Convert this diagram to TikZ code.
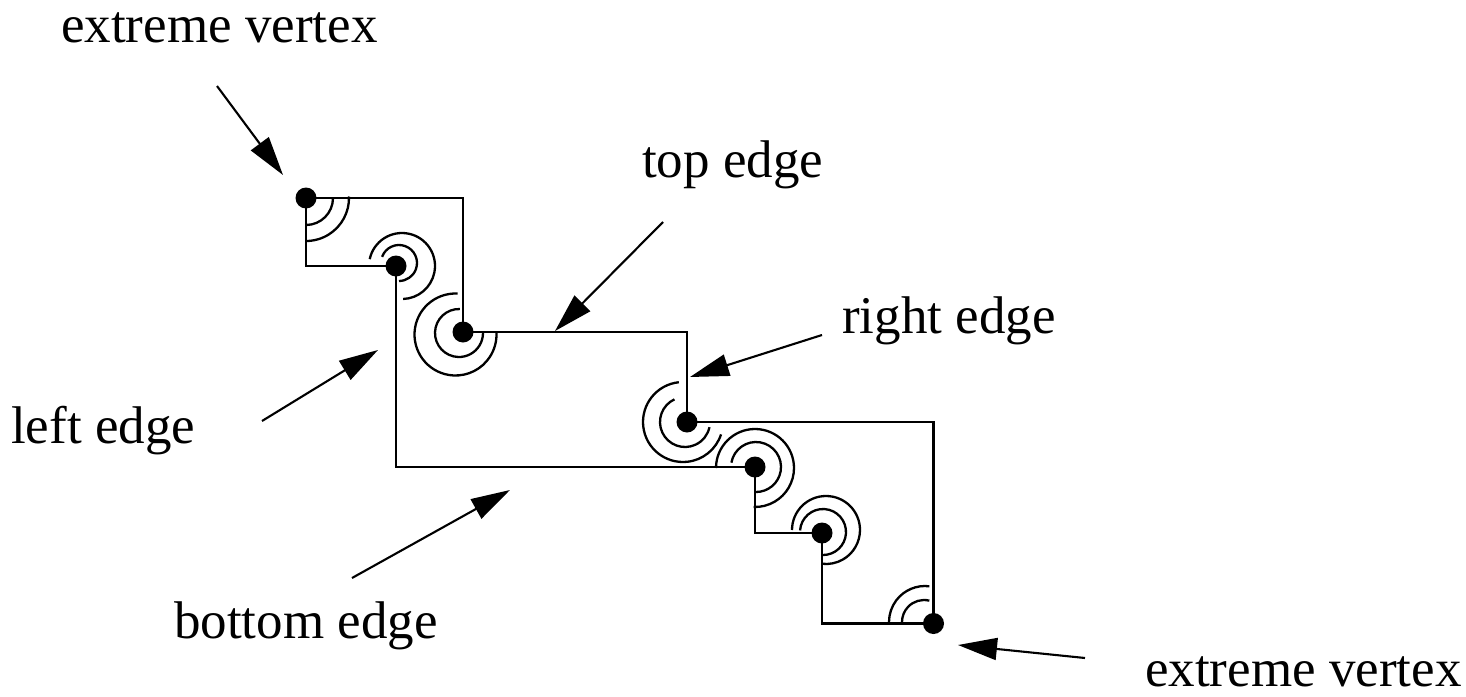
\documentclass[tikz,border=0pt]{standalone}
\usepackage{fontspec}
\setmainfont{Liberation Serif}
\usetikzlibrary{arrows.meta}

% one double-arc angle mark: centre x, centre y (downwards), radius, start, end
\newcommand\vtxarc[5]{%
  \draw[anglearc] ([shift={(#4:#3)}]#1,-#2) arc[start angle=#4, end angle=#5, radius=#3];}

\begin{document}
\begin{tikzpicture}[x=1pt,y=1pt,
  edge/.style={line width=2.3pt, line join=miter},
  vdot/.style={circle, fill=black, inner sep=0pt, minimum size=21pt},
  anglearc/.style={line width=2.3pt},
  pointer/.style={line width=2.1pt, -{Triangle[length=39pt,width=22pt]}},
  lbl/.style={font=\fontsize{53}{60}\selectfont, inner sep=0pt, anchor=base west}]
\useasboundingbox (0,0) rectangle (1466,-696);

% reflex and extreme vertices
\node[vdot] (A) at (306,-198) {};
\node[vdot] (B) at (396,-266) {};
\node[vdot] (C) at (463,-332) {};
\node[vdot] (D) at (687,-422) {};
\node[vdot] (E) at (755,-467) {};
\node[vdot] (F) at (822,-533) {};
\node[vdot] (G) at (933.5,-623.5) {};

% convex corners
\coordinate (u1) at (463,-198);
\coordinate (u2) at (687,-332);
\coordinate (u3) at (933.5,-422);
\coordinate (l1) at (306,-266);
\coordinate (l2) at (396,-467);
\coordinate (l3) at (755,-533);
\coordinate (l4) at (822,-623.5);

% the staircase polygon
\draw[edge] (A.center) -- (u1) -- (C.center) -- (u2) -- (D.center) -- (u3)
  -- (G.center) -- (l4) -- (F.center) -- (l3) -- (E.center) -- (l2)
  -- (B.center) -- (l1) -- cycle;

% angle marks
\vtxarc{306}{198}{27}{0}{-90}
\vtxarc{306}{198}{43}{2}{-90}
\vtxarc{399}{263}{18}{160}{-90}
\vtxarc{402}{266}{33}{168}{-88}
\vtxarc{459}{333}{24}{88}{360}
\vtxarc{455.5}{334.5}{41}{87}{362}
\vtxarc{685}{422}{25}{115}{348}
\vtxarc{683}{422}{40}{96}{342}
\vtxarc{756}{467}{25}{170}{-90}
\vtxarc{755}{468}{39}{180}{-92}
\vtxarc{823}{532}{23}{176}{-90}
\vtxarc{826}{530}{34}{180}{-97}
\vtxarc{924}{622}{22}{76}{180}
\vtxarc{925}{622}{36}{83}{180}

% labels
\node[lbl] (lexta) at (61,-42) {extreme vertex};
\node[lbl] (ltop) at (642,-177) {top edge};
\node[lbl] (lright) at (842,-333) {right edge};
\node[lbl] (lleft) at (11,-443) {left edge};
\node[lbl] (lbottom) at (174,-638) {bottom edge};
\node[lbl] (lextb) at (1145,-686) {extreme vertex};

% pointer arrows
\coordinate (s1) at (217,-86);   \coordinate (t1) at (283,-175);
\coordinate (s2) at (663,-222);  \coordinate (t2) at (555,-331);
\coordinate (s3) at (822,-335);  \coordinate (t3) at (690,-377);
\coordinate (s4) at (262,-421);  \coordinate (t4) at (378,-350);
\coordinate (s5) at (352,-578);  \coordinate (t5) at (510,-490);
\coordinate (s6) at (1085,-658); \coordinate (t6) at (958,-645);
\foreach \i in {1,...,6} \draw[pointer] (s\i) -- (t\i);
\end{tikzpicture}
\end{document}
